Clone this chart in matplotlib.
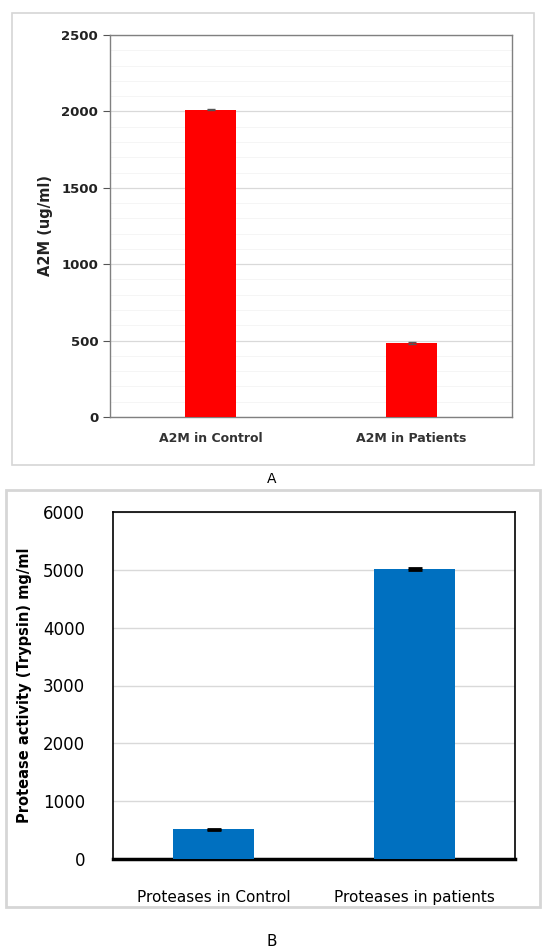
import numpy as np
import matplotlib.pyplot as plt
from matplotlib.patches import Rectangle

# Panel A data
a2m_labels = ['A2M in Control', 'A2M in Patients']
a2m_values = [2010, 485]
a2m_err = [4, 4]

# Panel B data
prot_labels = ['Proteases in Control', 'Proteases in patients']
prot_values = [512, 5010]
prot_err = [15, 15]

W, H = 544, 948
fig = plt.figure(figsize=(W / 100, H / 100), dpi=100)


def fig_rect(x0, y0, x1, y1):
    # pixel box (top-left origin) -> figure fraction
    return [x0 / W, 1 - y1 / H, (x1 - x0) / W, (y1 - y0) / H]


# outer frames
for (x0, y0, x1, y1, lw) in [(12, 13, 534, 465, 1.2), (6, 490, 540, 907, 2.0)]:
    fig.patches.append(Rectangle((x0 / W, 1 - y1 / H), (x1 - x0) / W, (y1 - y0) / H,
                                 transform=fig.transFigure, fill=False,
                                 edgecolor='#d6d6d6', linewidth=lw))

################################################################################
# Panel A
axA = fig.add_axes(fig_rect(110, 35, 512, 417))
x = np.arange(len(a2m_labels))
axA.bar(x, a2m_values, width=0.25, color='#ff0000', zorder=3)
axA.errorbar(x, a2m_values, yerr=a2m_err, fmt='none', ecolor='#555555',
             elinewidth=0.8, capsize=3, zorder=4)
axA.set_xlim(-0.5, 1.5)
axA.set_ylim(0, 2500)
axA.set_yticks(np.arange(0, 2501, 500))
axA.set_yticks(np.arange(0, 2501, 100), minor=True)
axA.grid(axis='y', which='major', color='#d9d9d9', linewidth=0.9, zorder=0)
axA.grid(axis='y', which='minor', color='#f4f4f4', linewidth=0.6, zorder=0)
axA.set_xticks(x)
axA.set_xticklabels(a2m_labels, fontsize=9, fontweight='bold', color='#333333')
axA.tick_params(axis='x', length=0, pad=11)
axA.tick_params(axis='y', which='major', length=5, direction='out', labelsize=9.5,
                colors='#555555', labelcolor='#222222')
axA.tick_params(axis='y', which='minor', length=0)
for lab in axA.get_yticklabels():
    lab.set_fontweight('bold')
for s in axA.spines.values():
    s.set_color('#808080')
    s.set_linewidth(1.0)
axA.set_ylabel('A2M (ug/ml)', fontsize=10.5, fontweight='bold', color='#222222', labelpad=6)
fig.text(272 / W, 1 - 479 / H, 'A', ha='center', va='center', fontsize=10)

################################################################################
# Panel B
axB = fig.add_axes(fig_rect(113, 512, 515, 859))
x = np.arange(len(prot_labels))
axB.bar(x, prot_values, width=0.4, color='#0070c0', zorder=3)
axB.errorbar(x, prot_values, yerr=prot_err, fmt='none', ecolor='black',
             elinewidth=1.0, capsize=5, capthick=2, zorder=4)
axB.set_xlim(-0.5, 1.5)
axB.set_ylim(0, 6000)
axB.set_yticks(np.arange(0, 6001, 1000))
axB.grid(axis='y', color='#d9d9d9', linewidth=1.0, zorder=0)
axB.set_xticks(x)
axB.set_xticklabels(prot_labels, fontsize=11)
axB.tick_params(axis='x', length=0, pad=22)
axB.tick_params(axis='y', length=0, labelsize=12, pad=20)
for s in axB.spines.values():
    s.set_color('black')
    s.set_linewidth(1.2)
axB.spines['bottom'].set_linewidth(2.5)
axB.set_ylabel('Protease activity (Trypsin) mg/ml', fontsize=10.5, fontweight='bold',
               labelpad=8)
fig.text(272 / W, 1 - 941 / H, 'B', ha='center', va='center', fontsize=11)

fig.savefig('out.png', dpi=100)
